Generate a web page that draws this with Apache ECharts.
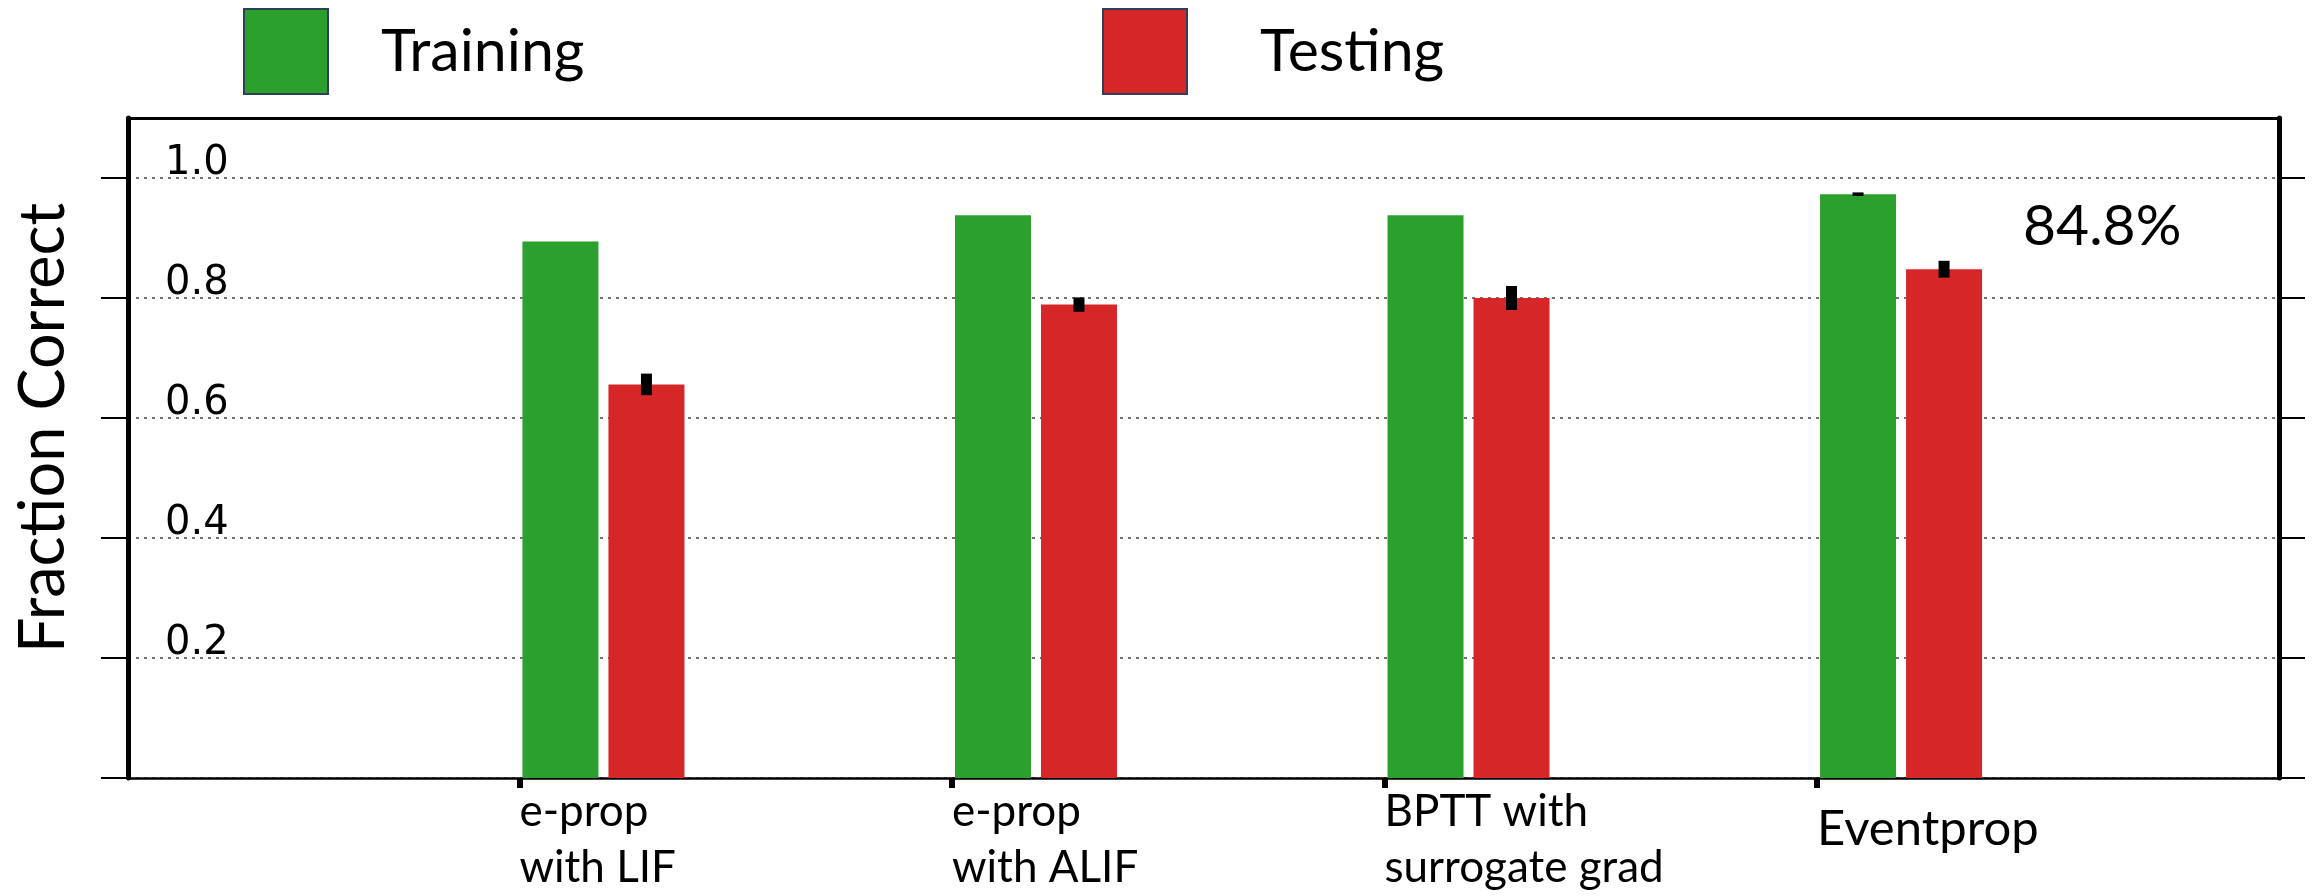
<!DOCTYPE html>
<html>
<head>
<meta charset="utf-8">
<script src="https://cdn.jsdelivr.net/npm/echarts@6/dist/echarts.min.js"></script>
<style>
  html, body { margin: 0; padding: 0; background: #fff; }
  #chart { width: 2321px; height: 896px; }
</style>
</head>
<body>
<div id="chart"></div>
<script>
// Methods compared on the x axis
const categories = ['e-prop\nwith LIF', 'e-prop\nwith ALIF', 'BPTT with\nsurrogate grad', 'Eventprop'];
// Fraction correct per method, with error (half range)
const trainValues = [0.894, 0.938, 0.938, 0.973];
const trainErrors = [0, 0, 0, 0.003];
const testValues = [0.656, 0.789, 0.800, 0.848];
const testErrors = [0.018, 0.012, 0.020, 0.014];
// Y ticks and labelled ticks
const yTicks = [0, 0.2, 0.4, 0.6, 0.8, 1.0];
const yLabelTicks = [0.2, 0.4, 0.6, 0.8, 1.0];
// The test accuracy that is written beside the last group
const noteIndex = 3;

const groupPos = categories.map((c, i) => i + 1);

const BAR_W = 76;
const BAR_GAP = 10;
const EDGE = 3;
const ERR_W = 11;

function barRenderer(offsetPx, withNote) {
  return function (params, api) {
    const x = api.value(0);
    const v = api.value(1);
    const e = api.value(2);
    const base = api.coord([x, 0]);
    const top = api.coord([x, v]);
    const left = base[0] + offsetPx;
    const children = [{
      type: 'rect',
      shape: { x: left, y: top[1], width: BAR_W, height: base[1] - top[1] },
      style: { fill: api.visual('color') }
    }];
    if (e > 0) {
      const hi = api.coord([x, v + e]);
      const lo = api.coord([x, v - e]);
      children.push({
        type: 'rect',
        shape: { x: left + BAR_W / 2 - ERR_W / 2, y: hi[1], width: ERR_W, height: lo[1] - hi[1] },
        style: { fill: '#000' }
      });
    }
    if (withNote && params.dataIndex === noteIndex) {
      children.push({
        type: 'text',
        x: left + BAR_W + 41,
        y: top[1] - 43,
        style: {
          text: (v * 100).toFixed(1) + '%',
          fill: '#000',
          font: '57px Lato',
          textAlign: 'left',
          textVerticalAlign: 'middle'
        }
      });
    }
    return { type: 'group', children };
  };
}

const chart = echarts.init(document.getElementById('chart'), null, { renderer: 'canvas' });

const legendCommon = {
  orient: 'horizontal',
  top: 3,
  icon: 'rect',
  itemWidth: 84,
  itemHeight: 85,
  selectedMode: false,
  itemStyle: { borderColor: '#2f3f57', borderWidth: 2 },
  textStyle: { fontFamily: 'Lato', fontSize: 59, color: '#000' }
};

chart.setOption({
  animation: false,
  backgroundColor: '#fff',
  legend: [
    Object.assign({}, legendCommon, { data: ['Training'], left: 238,
      textStyle: Object.assign({}, legendCommon.textStyle, { padding: [0, 0, 0, 48] }) }),
    Object.assign({}, legendCommon, { data: ['Testing'], left: 1097,
      textStyle: Object.assign({}, legendCommon.textStyle, { padding: [0, 0, 0, 68] }) })
  ],
  grid: { left: 128, right: 42, top: 118, bottom: 114, containLabel: false },
  xAxis: [{
    type: 'value',
    min: 0.095,
    max: 5.068,
    position: 'bottom',
    axisLine: { show: true, onZero: false, lineStyle: { color: '#000', width: 2.5 } },
    axisTick: { show: true, inside: false, length: 10, customValues: groupPos,
      lineStyle: { color: '#000', width: 6 } },
    axisLabel: {
      show: true,
      customValues: groupPos,
      formatter: v => {
        const name = categories[Math.round(v) - 1] || '';
        // a single-line name is set a little larger and lower
        return name.indexOf('\n') < 0 ? '{one|' + name + '}' : name;
      },
      align: 'left',
      verticalAlign: 'top',
      margin: 6,
      fontFamily: 'Lato',
      fontSize: 44,
      lineHeight: 56,
      color: '#000',
      rich: {
        one: { fontFamily: 'Lato', fontSize: 49, lineHeight: 90, color: '#000' }
      }
    },
    splitLine: { show: false }
  }, {
    type: 'value',
    min: 0.095,
    max: 5.068,
    position: 'top',
    z: 5,
    axisLine: { show: true, onZero: false, lineStyle: { color: '#000', width: 3 } },
    axisTick: { show: false },
    axisLabel: { show: false },
    splitLine: { show: false }
  }],
  yAxis: [{
    type: 'value',
    min: 0,
    max: 1.1,
    interval: 0.2,
    position: 'left',
    axisLine: { show: true, onZero: false, lineStyle: { color: '#000', width: 5 } },
    axisTick: { show: true, inside: false, length: 27, customValues: yTicks,
      lineStyle: { color: '#000', width: 2 } },
    axisLabel: {
      show: true,
      inside: true,
      customValues: yLabelTicks,
      formatter: v => v.toFixed(1),
      align: 'left',
      verticalAlign: 'bottom',
      margin: 37,
      fontFamily: 'DejaVu Sans',
      fontSize: 40,
      lineHeight: 29,
      color: '#000'
    },
    splitLine: { show: true, lineStyle: { color: '#444', width: 1.5, type: [3, 5] } },
    name: 'Fraction Correct',
    nameLocation: 'middle',
    nameGap: 53,
    nameRotate: 90,
    nameTextStyle: { fontFamily: 'Lato', fontSize: 63, color: '#000', padding: [0, 0, 0, 40] }
  }, {
    type: 'value',
    min: 0,
    max: 1.1,
    interval: 0.2,
    position: 'right',
    axisLine: { show: true, onZero: false, lineStyle: { color: '#000', width: 5 } },
    axisTick: { show: true, inside: false, length: 26, customValues: yTicks,
      lineStyle: { color: '#000', width: 2 } },
    axisLabel: { show: false },
    splitLine: { show: false }
  }],
  series: [{
    name: 'Training',
    type: 'custom',
    xAxisIndex: 0,
    yAxisIndex: 0,
    itemStyle: { color: '#2ca02c' },
    renderItem: barRenderer(EDGE, false),
    encode: { x: 0, y: 1 },
    data: trainValues.map((v, i) => [groupPos[i], v, trainErrors[i]])
  }, {
    name: 'Testing',
    type: 'custom',
    xAxisIndex: 0,
    yAxisIndex: 0,
    itemStyle: { color: '#d62728' },
    renderItem: barRenderer(EDGE + BAR_W + BAR_GAP, true),
    encode: { x: 0, y: 1 },
    data: testValues.map((v, i) => [groupPos[i], v, testErrors[i]])
  }]
});
</script>
</body>
</html>
